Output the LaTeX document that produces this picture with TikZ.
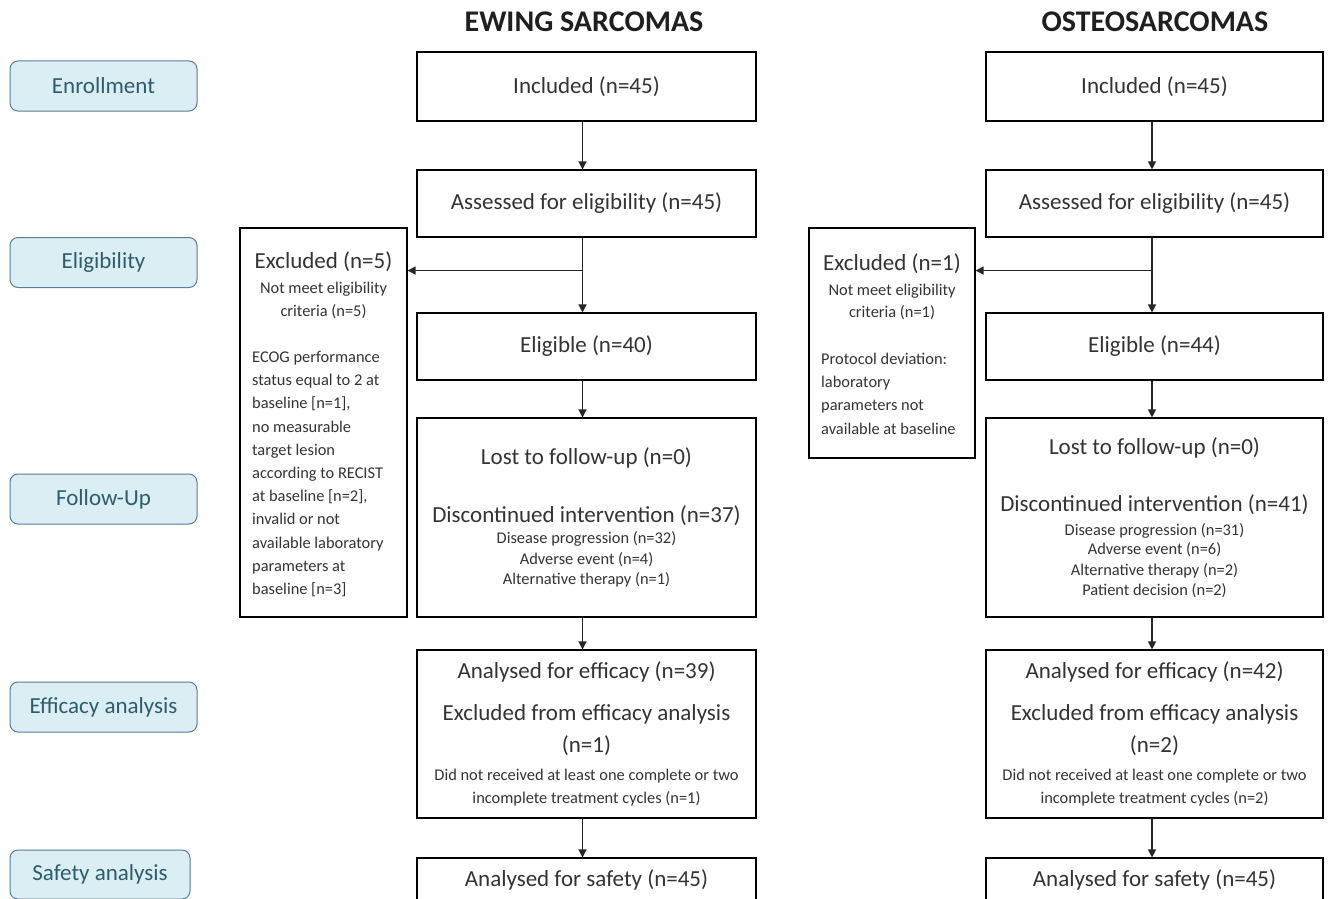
\documentclass[tikz,border=0pt]{standalone}
\usepackage{fontspec}
\setmainfont{Carlito}
\usetikzlibrary{positioning,arrows.meta}
\definecolor{stagefill}{HTML}{DBEEF4}
\definecolor{stageline}{HTML}{587F90}
\definecolor{stagetext}{HTML}{2F5C6C}
\definecolor{boxtext}{HTML}{333333}
\newcommand{\lgtxt}[1]{{\fontsize{23}{27}\selectfont #1}}
\tikzset{
    stage/.style={draw=stageline, fill=stagefill, rounded corners=8pt,
        line width=1pt, text=stagetext, minimum width=187pt,
        minimum height=50pt, font=\fontsize{23}{27}\selectfont},
    flowbox/.style={draw, line width=1.1pt, text=boxtext, align=center,
        minimum width=339pt, inner sep=0pt, font=\fontsize{16.4}{20.5}\selectfont},
    exclbox/.style={draw, line width=1.1pt},
    exclhead/.style={text=boxtext, align=center, inner sep=0pt,
        font=\fontsize{16.4}{20}\selectfont},
    excllist/.style={text=boxtext, align=left, inner sep=0pt, anchor=north west,
        font=\fontsize{16.4}{23.2}\selectfont},
    armtitle/.style={font=\fontsize{30}{34}\selectfont\bfseries, text=black!88},
    arr/.style={-{Triangle[length=8pt,width=8pt]}, line width=1.2pt, draw=black!85},
}
\begin{document}
\begin{tikzpicture}[x=1pt,y=-1pt]
\useasboundingbox (0,0) rectangle (1331,899);
\clip (0,0) rectangle (1331,899);

% stages
\node[stage] (enroll) at (103.5,86) {Enrollment};
\node[stage] (elig) at (103.5,262.5) {Eligibility};
\node[stage] (follow) at (103.5,499) {Follow-Up};
\node[stage] (effic) at (103.5,707) {Efficacy analysis};
\node[stage, minimum width=180pt, minimum height=49pt] (safety) at (100,874.5) {Safety analysis};

% Ewing sarcomas
\node[armtitle] (titleE) at (584,22) {EWING SARCOMAS};
\node[flowbox, minimum height=69pt] (inclE) at (586.5,86.5) {\lgtxt{Included (n=45)}};
\node[flowbox, minimum height=67pt] (assessE) at (586.5,203.5) {\lgtxt{Assessed for eligibility (n=45)}};
\node[flowbox, minimum height=67pt] (eligE) at (586.5,346.5) {\lgtxt{Eligible (n=40)}};
\node[flowbox, minimum height=199pt] (lostE) at (586.5,517.5) {\lgtxt{Lost to follow-up (n=0)}\\[36pt]
    \lgtxt{Discontinued intervention (n=37)}\\[1pt]
    Disease progression (n=32)\\
    Adverse event (n=4)\\
    Alternative therapy (n=1)};
\node[flowbox, minimum height=168pt] (efficE) at (586.5,734) {\lgtxt{Analysed for efficacy (n=39)}\\[21pt]
    \lgtxt{Excluded from efficacy analysis}\\[11pt]
    \lgtxt{(n=1)}\\[7pt]
    Did not received at least one complete or two\\[2.5pt]
    incomplete treatment cycles (n=1)};
\node[flowbox, minimum height=44pt] (safeE) at (586.5,880) {\lgtxt{Analysed for safety (n=45)}};

\node[exclbox, minimum width=167pt, minimum height=389pt] (exclE) at (323.5,422.5) {};
\node[exclhead] (exclEhead) at (323.5,285) {\lgtxt{Excluded (n=5)}\\[5pt]
    Not meet eligibility\\[3pt]
    criteria (n=5)};
\node[excllist] (exclElist) at (252,351) {ECOG performance\\
    status equal to 2 at\\
    baseline [n=1],\\
    no measurable\\
    target lesion\\
    according to RECIST\\
    at baseline [n=2],\\
    invalid or not\\
    available laboratory\\
    parameters at\\
    baseline [n=3]};
\coordinate (brE) at ([xshift=-4pt,yshift=-33pt]assessE.south);

\draw[arr] (inclE.south -| brE) -- (assessE.north -| brE);
\draw[arr] (assessE.south -| brE) -- (eligE.north -| brE);
\draw[arr] (brE) -- (brE -| exclE.east);
\draw[arr] (eligE.south -| brE) -- (lostE.north -| brE);
\draw[arr] (lostE.south -| brE) -- (efficE.north -| brE);
\draw[arr] (efficE.south -| brE) -- (safeE.north -| brE);

% Osteosarcomas
\node[armtitle] (titleO) at (1155,22) {OSTEOSARCOMAS};
\node[flowbox, minimum width=337pt, minimum height=69pt] (inclO) at (1154.5,86.5) {\lgtxt{Included (n=45)}};
\node[flowbox, minimum width=337pt, minimum height=67pt] (assessO) at (1154.5,203.5) {\lgtxt{Assessed for eligibility (n=45)}};
\node[flowbox, minimum width=337pt, minimum height=67pt] (eligO) at (1154.5,346.5) {\lgtxt{Eligible (n=44)}};
\node[flowbox, minimum width=337pt, minimum height=199pt] (lostO) at (1154.5,517.5) {\lgtxt{Lost to follow-up (n=0)}\\[36pt]
    \lgtxt{Discontinued intervention (n=41)}\\[3pt]
    Disease progression (n=31)\\[-1pt]
    Adverse event (n=6)\\
    Alternative therapy (n=2)\\
    Patient decision (n=2)};
\node[flowbox, minimum width=337pt, minimum height=168pt] (efficO) at (1154.5,734) {\lgtxt{Analysed for efficacy (n=42)}\\[21pt]
    \lgtxt{Excluded from efficacy analysis}\\[11pt]
    \lgtxt{(n=2)}\\[7pt]
    Did not received at least one complete or two\\[2.5pt]
    incomplete treatment cycles (n=2)};
\node[flowbox, minimum width=337pt, minimum height=44pt] (safeO) at (1154.5,880) {\lgtxt{Analysed for safety (n=45)}};

\node[exclbox, minimum width=166pt, minimum height=230pt] (exclO) at (892,343) {};
\node[exclhead] (exclOhead) at (892,287) {\lgtxt{Excluded (n=1)}\\[5pt]
    Not meet eligibility\\[2pt]
    criteria (n=1)};
\node[excllist] (exclOlist) at (821,353) {Protocol deviation:\\
    laboratory\\
    parameters not\\
    available at baseline};
\coordinate (brO) at ([xshift=-2.5pt,yshift=-33pt]assessO.south);

\draw[arr] (inclO.south -| brO) -- (assessO.north -| brO);
\draw[arr] (assessO.south -| brO) -- (eligO.north -| brO);
\draw[arr] (brO) -- (brO -| exclO.east);
\draw[arr] (eligO.south -| brO) -- (lostO.north -| brO);
\draw[arr] (lostO.south -| brO) -- (efficO.north -| brO);
\draw[arr] (efficO.south -| brO) -- (safeO.north -| brO);
\end{tikzpicture}
\end{document}
